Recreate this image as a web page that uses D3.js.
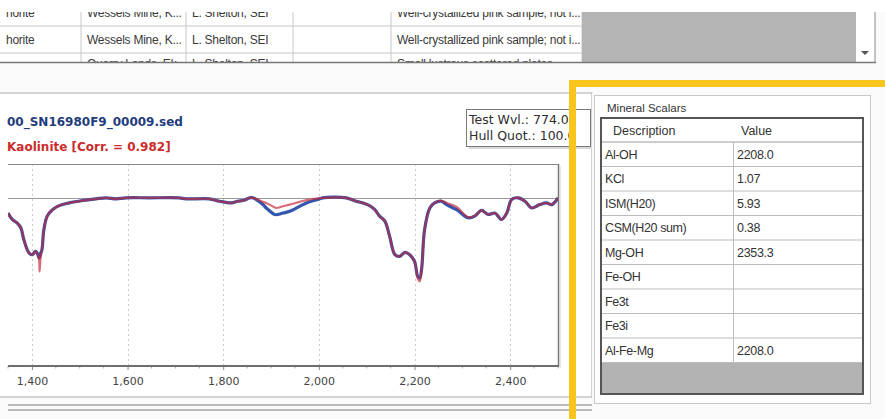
<!DOCTYPE html>
<html>
<head>
<meta charset="utf-8">
<script src="https://cdn.jsdelivr.net/npm/d3@7"></script>
<style>
  html, body { margin: 0; padding: 0; background: #fafafa; }
  svg { display: block; }
</style>
</head>
<body>
<svg width="885" height="419"></svg>
<script>
"use strict";

// Data.

var libraryRows = [
    ["horite", "Wessels Mine, K...", "L. Shelton, SEI", "", "Well-crystallized pink sample; not i..."],
    ["horite", "Wessels Mine, K...", "L. Shelton, SEI", "", "Well-crystallized pink sample; not i..."],
    ["", "Quarry Lands, Ek...", "L. Shelton, SEI", "", "Small lustrous scattered plates..."]
];

var fileName = "00_SN16980F9_00009.sed";
var matchLabel = "Kaolinite [Corr. = 0.982]";
var testLines = ["Test Wvl.: 774.0", "Hull Quot.: 100.0"];

var wavelengths = [1350, 1359, 1369, 1377, 1383, 1394, 1401, 1407, 1411, 1415, 1416, 1418, 1421, 1425,
    1432, 1443, 1457, 1478, 1506, 1534, 1555, 1576, 1597, 1645, 1708, 1722, 1771, 1792, 1817, 1830,
    1844, 1855, 1862, 1883, 1890, 1907, 1911, 1925, 1939, 1974, 2002, 2008, 2057, 2078, 2092, 2106,
    2117, 2127, 2138, 2148, 2159, 2169, 2180, 2190, 2200, 2207, 2211, 2215, 2221, 2232, 2242, 2256,
    2267, 2288, 2312, 2326, 2340, 2354, 2368, 2382, 2393, 2403, 2417, 2431, 2445, 2462, 2476, 2487, 2500];

var measured = [0.955, 0.936, 0.926, 0.911, 0.877, 0.837, 0.832, 0.842, 0.837, 0.822, 0.826, 0.835, 0.847, 0.906,
    0.946, 0.965, 0.977, 0.985, 0.992, 0.997, 1.0, 0.997, 1.0, 1.0, 1.0, 0.997, 0.997, 0.990, 0.985, 0.990,
    0.993, 1.0, 1.0, 0.980, 0.970, 0.951, 0.950, 0.955, 0.960, 0.985, 0.997, 1.0, 1.0, 0.990, 0.985, 0.977,
    0.965, 0.946, 0.931, 0.886, 0.832, 0.827, 0.839, 0.832, 0.812, 0.767, 0.764, 0.792, 0.906, 0.970, 0.985, 0.990,
    0.980, 0.965, 0.941, 0.946, 0.963, 0.951, 0.955, 0.936, 0.955, 0.995, 1.0, 0.990, 0.970, 0.980, 0.985, 0.980, 1.0];

var reference = [0.955, 0.936, 0.926, 0.911, 0.877, 0.837, 0.832, 0.842, 0.837, 0.818, 0.782, 0.820, 0.847, 0.906,
    0.946, 0.965, 0.977, 0.985, 0.992, 0.997, 1.0, 0.997, 1.0, 1.0, 1.0, 0.997, 0.997, 0.990, 0.985, 0.990,
    0.993, 1.0, 1.0, 0.988, 0.985, 0.972, 0.970, 0.975, 0.980, 0.993, 0.999, 1.0, 1.0, 0.990, 0.985, 0.977,
    0.965, 0.946, 0.931, 0.886, 0.832, 0.827, 0.839, 0.832, 0.812, 0.762, 0.753, 0.792, 0.906, 0.970, 0.985, 0.992,
    0.985, 0.973, 0.943, 0.946, 0.963, 0.951, 0.955, 0.936, 0.955, 0.995, 1.0, 0.990, 0.970, 0.980, 0.985, 0.980, 1.0];

var scalarNames = ["Al-OH", "KCl", "ISM(H20)", "CSM(H20 sum)", "Mg-OH", "Fe-OH", "Fe3t", "Fe3i", "Al-Fe-Mg"];
var scalarValues = ["2208.0", "1.07", "5.93", "0.38", "2353.3", "", "", "", "2208.0"];

// SVG.

var svg = d3.select("svg");
var UiFont = "'Liberation Sans', Arial, sans-serif";
var ChartFont = "'DejaVu Sans', Verdana, sans-serif";

// Library table at the top.

var TableTop = 12, TableBottom = 62.5, RowH = 27;
var colX = [0, 81, 186, 293, 391, 582];
var rowBase = [17, 44, 68];

var table = svg.append("g");
table.append("rect").attr("x", 0).attr("y", 0).attr("width", 885).attr("height", TableTop).attr("fill", "#ffffff");
table.append("rect").attr("x", 0).attr("y", TableTop).attr("width", 875).attr("height", TableBottom - TableTop)
    .attr("fill", "#ffffff");
table.append("clipPath").attr("id", "tableclip")
    .append("rect").attr("x", 0).attr("y", TableTop).attr("width", 875).attr("height", TableBottom - TableTop);

var rows = table.append("g").attr("clip-path", "url(#tableclip)");
libraryRows.forEach(function(r, i){
    var y0 = i*RowH - 1;
    rows.append("line").attr("x1", 0).attr("x2", 582).attr("y1", y0 + RowH).attr("y2", y0 + RowH)
        .attr("stroke", "#c8c8c8");
    r.forEach(function(t, j){
        rows.append("text").attr("x", colX[j] + 6).attr("y", rowBase[i])
            .attr("font-family", UiFont).attr("font-size", 12).attr("fill", "#3a3a3a")
            .attr("letter-spacing", -0.25)
            .text(t);
    });
});
colX.slice(1).forEach(function(x){
    rows.append("line").attr("x1", x).attr("x2", x).attr("y1", TableTop).attr("y2", TableBottom)
        .attr("stroke", "#c8c8c8");
});
rows.append("rect").attr("x", 582).attr("y", TableTop).attr("width", 274).attr("height", TableBottom - TableTop)
    .attr("fill", "#b4b4b4");
table.append("line").attr("x1", 875).attr("x2", 875).attr("y1", TableTop).attr("y2", TableBottom)
    .attr("stroke", "#888");
table.append("line").attr("x1", 0).attr("x2", 876).attr("y1", TableBottom).attr("y2", TableBottom)
    .attr("stroke", "#777").attr("stroke-width", 1.5);
table.append("path").attr("d", "M861,51 L869,51 L865,55 Z").attr("fill", "#555");

// Chart panel.

var panel = svg.append("g");
panel.append("rect").attr("x", -1).attr("y", 93).attr("width", 593).attr("height", 304)
    .attr("fill", "#ffffff").attr("stroke", "#a8a8a8");
panel.append("line").attr("x1", 8).attr("x2", 592).attr("y1", 405).attr("y2", 405).attr("stroke", "#a5a5a5")
    .attr("stroke-width", 1.3);
panel.append("line").attr("x1", 8).attr("x2", 592).attr("y1", 410).attr("y2", 410).attr("stroke", "#a5a5a5")
    .attr("stroke-width", 1.3);

panel.append("text").attr("x", 7).attr("y", 126)
    .attr("font-family", ChartFont).attr("font-weight", "bold").attr("font-size", 12)
    .attr("fill", "#1f3c7c").text(fileName);
panel.append("text").attr("x", 7).attr("y", 151)
    .attr("font-family", ChartFont).attr("font-weight", "bold").attr("font-size", 12)
    .attr("fill", "#cc2b2b").text(matchLabel);

// Plot area.

var PlotLeft = 8, PlotRight = 558, PlotTop = 164, PlotBottom = 366;

var x = d3.scaleLinear().domain([1350, 2500]).range([PlotLeft, PlotRight]);
var y = d3.scaleLinear().domain([0.5, 1.1]).range([PlotBottom + 1, PlotTop]);

var plot = svg.append("g");
plot.append("clipPath").attr("id", "plotclip")
    .append("rect").attr("x", PlotLeft).attr("y", PlotTop).attr("width", PlotRight - PlotLeft)
    .attr("height", PlotBottom - PlotTop);

// Vertical dotted gridlines.
plot.selectAll("line.grid")
    .data(x.ticks(6))
    .enter()
    .append("line")
        .attr("class", "grid")
        .attr("x1", function(d){ return Math.round(x(d)) + 0.5; })
        .attr("x2", function(d){ return Math.round(x(d)) + 0.5; })
        .attr("y1", PlotTop)
        .attr("y2", PlotBottom)
        .attr("stroke", "#c9c9c9")
        .attr("stroke-dasharray", "2,3");

// Hull line at 1.0.
plot.append("line").attr("x1", PlotLeft).attr("x2", PlotRight)
    .attr("y1", Math.round(y(1.0)) + 0.5).attr("y2", Math.round(y(1.0)) + 0.5)
    .attr("stroke", "#9a9a9a");

// Frame.
plot.append("line").attr("x1", PlotLeft).attr("x2", PlotRight).attr("y1", PlotTop + 0.5).attr("y2", PlotTop + 0.5)
    .attr("stroke", "#8a8a8a");
plot.append("line").attr("x1", PlotRight + 0.5).attr("x2", PlotRight + 0.5).attr("y1", PlotTop).attr("y2", PlotBottom)
    .attr("stroke", "#777").attr("stroke-width", 1.5);
plot.append("line").attr("x1", PlotRight + 2).attr("x2", PlotRight + 2).attr("y1", PlotTop + 2).attr("y2", PlotBottom + 2)
    .attr("stroke", "#d0d0d0");

// Spectra.
var line = d3.line()
    .x(function(d){ return x(d.w); })
    .y(function(d){ return y(d.v); })
    .curve(d3.curveCatmullRom.alpha(0.5));

var measuredPts = wavelengths.map(function(w, i){ return {"w": w, "v": measured[i]}; });
var referencePts = wavelengths.map(function(w, i){ return {"w": w, "v": reference[i]}; });

var spectra = plot.append("g").attr("clip-path", "url(#plotclip)");
spectra.append("path").datum(measuredPts).attr("d", line)
    .attr("fill", "none").attr("stroke", "#3056b0").attr("stroke-width", 3.2)
    .attr("stroke-linejoin", "round");
spectra.append("path").datum(referencePts).attr("d", line)
    .attr("fill", "none").attr("stroke", "#c4283a").attr("stroke-width", 2.2)
    .attr("stroke-opacity", 0.68).attr("stroke-linejoin", "round");

// X axis.
var axis = d3.axisBottom(x)
    .tickValues(d3.range(1400, 2500, 200))
    .tickFormat(d3.format(","))
    .tickSize(4)
    .tickPadding(7);

var ax = plot.append("g").attr("transform", "translate(0," + PlotBottom + ")").call(axis);
ax.select(".domain").remove();
ax.selectAll(".tick line").attr("stroke", "#888");
ax.selectAll(".tick text")
    .attr("font-family", ChartFont).attr("font-size", 11).attr("fill", "#444");
ax.selectAll("line.minor")
    .data(d3.range(1350, 2501, 50).filter(function(d){ return d % 200 !== 0; }))
    .enter()
    .append("line")
        .attr("class", "minor")
        .attr("x1", function(d){ return x(d); })
        .attr("x2", function(d){ return x(d); })
        .attr("y1", 0)
        .attr("y2", 2.5)
        .attr("stroke", "#aaa");
plot.append("line").attr("x1", PlotLeft).attr("x2", PlotRight + 1).attr("y1", PlotBottom).attr("y2", PlotBottom)
    .attr("stroke", "#6e6e6e").attr("stroke-width", 2);

// Test wavelength box.
var tb = svg.append("g");
tb.append("rect").attr("x", 469).attr("y", 112).attr("width", 124).attr("height", 37).attr("fill", "#d8d8d8");
tb.append("rect").attr("x", 466.5).attr("y", 109.5).attr("width", 124).attr("height", 37)
    .attr("fill", "#ffffff").attr("stroke", "#7a7a7a");
testLines.forEach(function(t, i){
    tb.append("text").attr("x", 469).attr("y", 124 + i*16)
        .attr("font-family", ChartFont).attr("font-size", 12.5).attr("fill", "#2e2e2e").text(t);
});

// Mineral scalars panel.

var side = svg.append("g");
side.append("rect").attr("x", 592).attr("y", 93).attr("width", 300).attr("height", 330).attr("fill", "#fafafa");
side.append("rect").attr("x", 594.5).attr("y", 95.5).attr("width", 276).attr("height", 308)
    .attr("fill", "#ffffff").attr("stroke", "#c8c8c8");
side.append("text").attr("x", 607).attr("y", 112)
    .attr("font-family", UiFont).attr("font-size", 11.5).attr("fill", "#333").text("Mineral Scalars");

var TabLeft = 601, TabRight = 863, TabTop = 118, HeadH = 24, ScalarRowH = 24.5, TabBottom = 394, ValueX = 733;

side.append("rect").attr("x", TabLeft).attr("y", TabTop).attr("width", TabRight - TabLeft)
    .attr("height", TabBottom - TabTop).attr("fill", "#b3b3b3");
side.append("rect").attr("x", TabLeft).attr("y", TabTop).attr("width", TabRight - TabLeft)
    .attr("height", HeadH + ScalarRowH*scalarNames.length).attr("fill", "#ffffff");

side.append("text").attr("x", 613).attr("y", TabTop + 17)
    .attr("font-family", UiFont).attr("font-size", 12.5).attr("fill", "#333").text("Description");
side.append("text").attr("x", 741).attr("y", TabTop + 17)
    .attr("font-family", UiFont).attr("font-size", 12.5).attr("fill", "#333").text("Value");
side.append("line").attr("x1", TabLeft).attr("x2", TabRight).attr("y1", TabTop + HeadH).attr("y2", TabTop + HeadH)
    .attr("stroke", "#9a9a9a");

scalarNames.forEach(function(name, i){
    var y0 = TabTop + HeadH + i*ScalarRowH;
    side.append("line").attr("x1", TabLeft).attr("x2", TabRight)
        .attr("y1", y0 + ScalarRowH).attr("y2", y0 + ScalarRowH).attr("stroke", "#bdbdbd");
    side.append("text").attr("x", 605).attr("y", y0 + 16.5)
        .attr("font-family", UiFont).attr("font-size", 12.5).attr("fill", "#333")
        .attr("letter-spacing", -0.4).text(name);
    side.append("text").attr("x", 737).attr("y", y0 + 16.5)
        .attr("font-family", UiFont).attr("font-size", 12.5).attr("fill", "#333")
        .attr("letter-spacing", -0.3).text(scalarValues[i]);
});
side.append("line").attr("x1", ValueX + 0.5).attr("x2", ValueX + 0.5).attr("y1", TabTop + HeadH)
    .attr("y2", TabTop + HeadH + ScalarRowH*scalarNames.length).attr("stroke", "#bdbdbd");
side.append("rect").attr("x", TabLeft).attr("y", TabTop).attr("width", TabRight - TabLeft)
    .attr("height", TabBottom - TabTop).attr("fill", "none").attr("stroke", "#555").attr("stroke-width", 2);

// Yellow highlight frame.
svg.append("rect").attr("x", 572.5).attr("y", 83.5).attr("width", 330).attr("height", 340)
    .attr("fill", "none").attr("stroke", "#f7c51b").attr("stroke-width", 7);
</script>
</body>
</html>
